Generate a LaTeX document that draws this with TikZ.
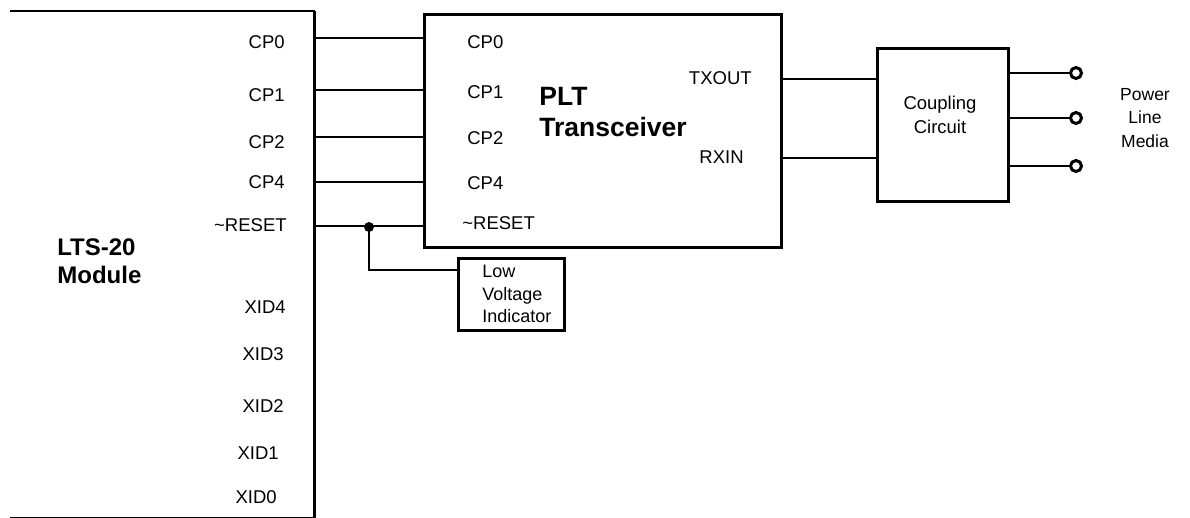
\documentclass[tikz,border=0pt]{standalone}
\usepackage{fontspec}
\setmainfont{Liberation Sans}
\begin{document}
\begin{tikzpicture}[x=1pt,y=-1pt,line width=2.7pt,
  lbl/.style={font=\fontsize{18.5}{22}\selectfont, inner sep=0pt},
  big/.style={font=\fontsize{25}{28}\selectfont\bfseries, inner sep=0pt, align=left},
  blk/.style={draw, line width=3pt, inner sep=0pt, anchor=north west},
  term/.style={circle, draw, line width=3pt, minimum size=11pt, inner sep=0pt},
  jdot/.style={circle, fill, minimum size=10pt, inner sep=0pt}]
\useasboundingbox (0,0) rectangle (1190,517);
% LTS-20 module (open on the left)
\node[inner sep=0pt, anchor=north west, minimum width=302pt, minimum height=504pt] (lts) at (10,11) {};
\draw[line width=2.4pt] (lts.north west) -- (lts.north east);
\draw[line width=3pt] (lts.north east) -- (lts.south east);
\draw[line width=2.2pt] (lts.south west) -- (lts.south east);
% blocks
\node[blk, minimum width=357pt, minimum height=233pt] (plt) at (423,13) {};
\node[blk, minimum width=131pt, minimum height=153pt] (coup) at (876,47) {};
\node[blk, minimum width=106pt, minimum height=72pt] (lvi) at (457,257) {};
% pin rows
\coordinate (r0) at (0,38);
\coordinate (r1) at (0,90);
\coordinate (r2) at (0,137);
\coordinate (r4) at (0,182);
\coordinate (rr) at (0,226);
\coordinate (rtx) at (0,79);
\coordinate (rrx) at (0,158);
\draw (lts.east |- r0) -- (plt.west |- r0);
\draw (lts.east |- r1) -- (plt.west |- r1);
\draw (lts.east |- r2) -- (plt.west |- r2);
\draw (lts.east |- r4) -- (plt.west |- r4);
\draw (lts.east |- rr) -- (plt.west |- rr);
\draw (plt.east |- rtx) -- (coup.west |- rtx);
\draw (plt.east |- rrx) -- (coup.west |- rrx);
% junction to low voltage indicator
\node[jdot] (j) at (369,227) {};
\coordinate (lvirow) at (0,270);
\draw (j.center) -- (j.center |- lvirow) -- (lvi.west |- lvirow);
% power line terminals
\node[term] (t1) at (1076,73) {};
\node[term] (t2) at (1076,118) {};
\node[term] (t3) at (1076,166) {};
\draw (coup.east |- t1) -- (t1.west);
\draw (coup.east |- t2) -- (t2.west);
\draw (coup.east |- t3) -- (t3.west);
% LTS labels
\node[lbl, anchor=east] (l0) at (286,42) {CP0};
\node[lbl, anchor=east] (l1) at (286,95) {CP1};
\node[lbl, anchor=east] (l2) at (286,142) {CP2};
\node[lbl, anchor=east] (l4) at (286,182) {CP4};
\node[lbl, anchor=east] (lres) at (288,225) {\textasciitilde RESET};
\node[lbl, anchor=east] (x4) at (287,307) {XID4};
\node[lbl, anchor=east] (x3) at (285,354) {XID3};
\node[lbl, anchor=east] (x2) at (285,406) {XID2};
\node[lbl, anchor=east] (x1) at (280,453) {XID1};
\node[lbl, anchor=east] (x0) at (278,497) {XID0};
\node[big, anchor=west, font=\fontsize{24}{28}\selectfont\bfseries] (ltsname) at (56,261) {LTS-20\\Module};
% PLT labels
\node[lbl, anchor=west] (m0) at (466,42) {CP0};
\node[lbl, anchor=west] (m1) at (466,92) {CP1};
\node[lbl, anchor=west] (m2) at (466,138) {CP2};
\node[lbl, anchor=west] (m4) at (466,183) {CP4};
\node[lbl, anchor=west] (mres) at (461,223) {\textasciitilde RESET};
\node[big, anchor=west, font=\fontsize{26.5}{31}\selectfont\bfseries] (pltname) at (538,112) {PLT\\Transceiver};
\node[lbl, anchor=east] (tx) at (753,78) {TXOUT};
\node[lbl, anchor=east] (rx) at (745,157) {RXIN};
% coupling and lvi text
\node[lbl, align=center, font=\fontsize{18.5}{24}\selectfont] (ctext) at (940,115) {Coupling\\Circuit};
\node[lbl, align=left, anchor=west, font=\fontsize{18}{22.5}\selectfont] (lvitext) at (481,294) {Low\\Voltage\\Indicator};
\node[lbl, align=center, font=\fontsize{17.5}{23.5}\selectfont] (plm) at (1145,118) {Power\\Line\\Media};
\end{tikzpicture}
\end{document}
